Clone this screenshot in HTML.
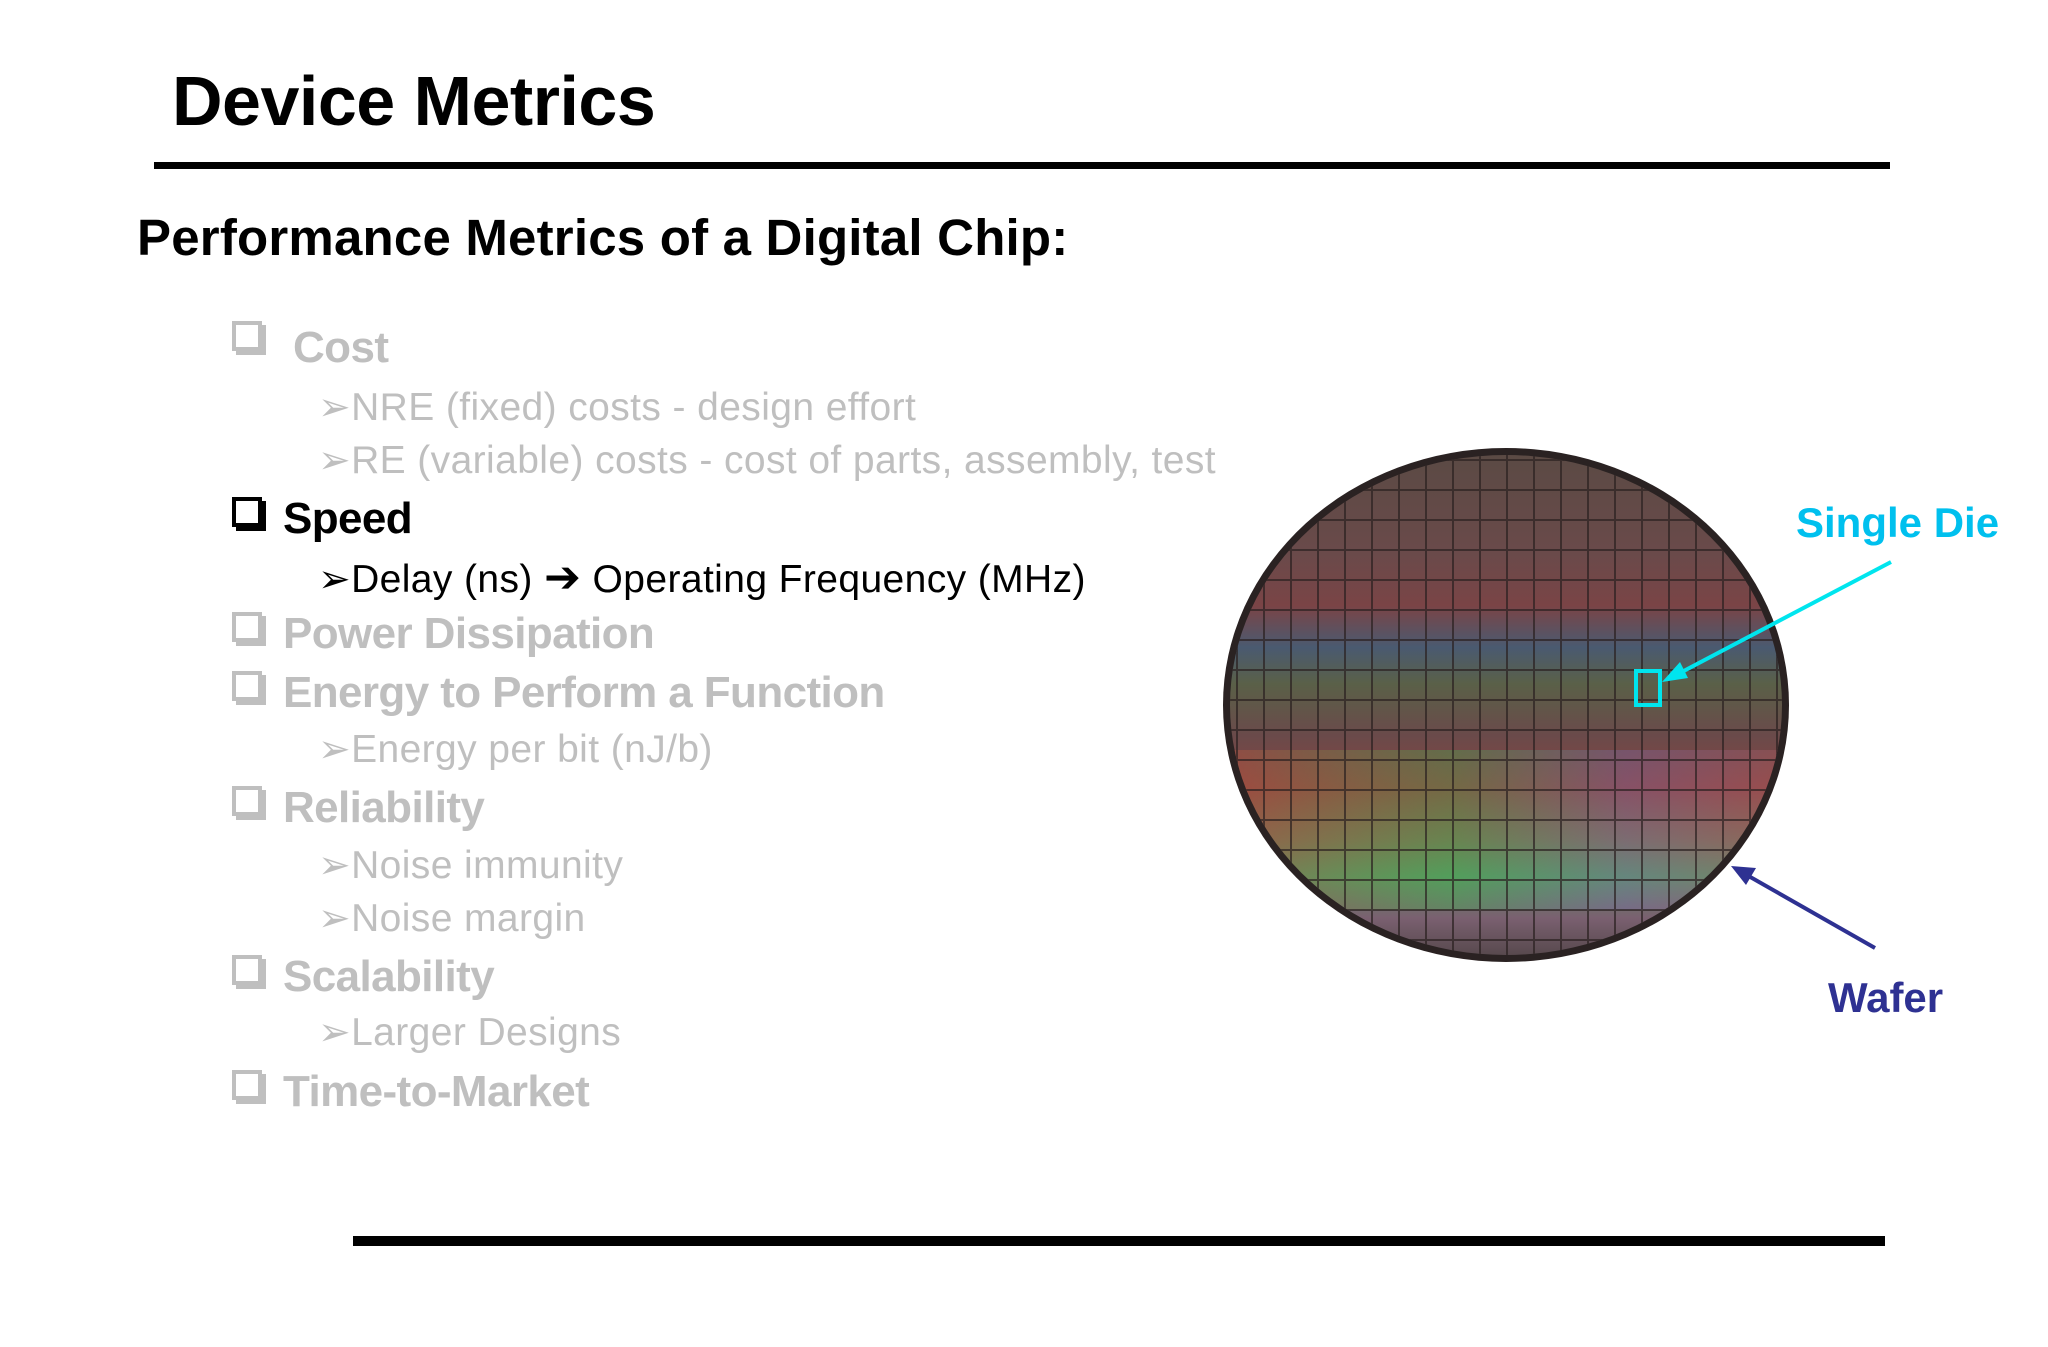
<!DOCTYPE html>
<html><head><meta charset="utf-8"><style>
html,body{margin:0;padding:0;background:#fff}
body{width:2048px;height:1347px;position:relative;overflow:hidden;font-family:"Liberation Sans","DejaVu Sans",sans-serif}
.t{position:absolute;white-space:nowrap;line-height:1}
.g{color:#bfbfbf}
.main{font-size:44px;font-weight:bold;letter-spacing:-0.6px}
.sub{font-size:39px;letter-spacing:0.4px}
.cb{position:absolute;width:30px;height:30px;border:4px solid #bfbfbf;box-sizing:border-box;box-shadow:4px 4px 0 #bfbfbf}
.cb.k{border-color:#000;box-shadow:4px 4px 0 #000}
</style></head><body>
<div class="t" style="left:172px;top:66px;font-size:70px;font-weight:bold;letter-spacing:-0.5px">Device Metrics</div>
<div style="position:absolute;left:154px;top:162px;width:1736px;height:7px;background:#000"></div>
<div class="t" style="left:137px;top:212px;font-size:51px;font-weight:bold;letter-spacing:0.2px">Performance Metrics of a Digital Chip:</div>

<div class="cb" style="left:232px;top:321px"></div>
<div class="t g main" style="left:293px;top:326px">Cost</div>
<div class="t g sub" style="left:318px;top:388px">➢NRE (fixed) costs - design effort</div>
<div class="t g sub" style="left:318px;top:441px">➢RE (variable) costs - cost of parts, assembly, test</div>

<div class="cb k" style="left:232px;top:497px"></div>
<div class="t main" style="left:283px;top:497px">Speed</div>
<div class="t sub" style="left:318px;top:556px">➢Delay (ns) <b style="font-size:44px">➔</b> Operating Frequency (MHz)</div>

<div class="cb" style="left:232px;top:612px"></div>
<div class="t g main" style="left:283px;top:612px">Power Dissipation</div>
<div class="cb" style="left:232px;top:671px"></div>
<div class="t g main" style="left:283px;top:671px">Energy to Perform a Function</div>
<div class="t g sub" style="left:318px;top:730px">➢Energy per bit (nJ/b)</div>
<div class="cb" style="left:232px;top:786px"></div>
<div class="t g main" style="left:283px;top:786px">Reliability</div>
<div class="t g sub" style="left:318px;top:846px">➢Noise immunity</div>
<div class="t g sub" style="left:318px;top:899px">➢Noise margin</div>
<div class="cb" style="left:232px;top:955px"></div>
<div class="t g main" style="left:283px;top:955px">Scalability</div>
<div class="t g sub" style="left:318px;top:1013px">➢Larger Designs</div>
<div class="cb" style="left:232px;top:1070px"></div>
<div class="t g main" style="left:283px;top:1070px">Time-to-Market</div>

<div style="position:absolute;left:353px;top:1236px;width:1532px;height:10px;background:#000"></div>

<svg style="position:absolute;left:0;top:0" width="2048" height="1347">
<defs>
<clipPath id="cw"><ellipse cx="1506" cy="705" rx="276" ry="250"/></clipPath>
<linearGradient id="bands" x1="0" y1="0" x2="0" y2="1">
<stop offset="0" stop-color="#5a4a44"/><stop offset="0.2" stop-color="#6a4a4a"/>
<stop offset="0.3" stop-color="#7a4446"/><stop offset="0.38" stop-color="#4a5a70"/>
<stop offset="0.45" stop-color="#5a6048"/><stop offset="0.55" stop-color="#6a4a4a"/>
<stop offset="0.65" stop-color="#8a4440"/><stop offset="0.75" stop-color="#7a6a50"/>
<stop offset="0.82" stop-color="#5a9060"/><stop offset="0.9" stop-color="#7a6070"/>
<stop offset="1" stop-color="#4a4040"/></linearGradient>
<linearGradient id="hz" x1="0" y1="0" x2="1" y2="0">
<stop offset="0" stop-color="#c05040" stop-opacity="0.4"/><stop offset="0.4" stop-color="#40c050" stop-opacity="0.3"/>
<stop offset="0.7" stop-color="#8070c0" stop-opacity="0.3"/><stop offset="1" stop-color="#c06060" stop-opacity="0.3"/></linearGradient>
<pattern id="grid" x="1237" y="460" width="27" height="30" patternUnits="userSpaceOnUse">
<rect width="27" height="30" fill="none" stroke="#2a2020" stroke-width="2"/></pattern>
</defs>
<ellipse cx="1506" cy="705" rx="283" ry="257" fill="#2a2222"/>
<g clip-path="url(#cw)">
<rect x="1220" y="450" width="580" height="520" fill="url(#bands)"/>
<rect x="1220" y="750" width="580" height="160" fill="url(#hz)"/>
<rect x="1220" y="450" width="580" height="520" fill="url(#grid)" opacity="0.7"/>
</g>
<line x1="1891" y1="562" x2="1678" y2="674" stroke="#00e5ee" stroke-width="4"/>
<polygon points="1662,682 1680,662 1688,678" fill="#00e5ee"/>
<rect x="1636" y="671" width="24" height="34" fill="none" stroke="#00e5ee" stroke-width="4"/>
<line x1="1875" y1="948" x2="1745" y2="874" stroke="#2e3192" stroke-width="4"/>
<polygon points="1731,866 1756,868 1746,885" fill="#2e3192"/>
</svg>
<div class="t" style="left:1796px;top:502px;font-size:42px;font-weight:bold;color:#00c0ee">Single Die</div>
<div class="t" style="left:1828px;top:977px;font-size:42px;font-weight:bold;color:#2e3192">Wafer</div>
</body></html>
